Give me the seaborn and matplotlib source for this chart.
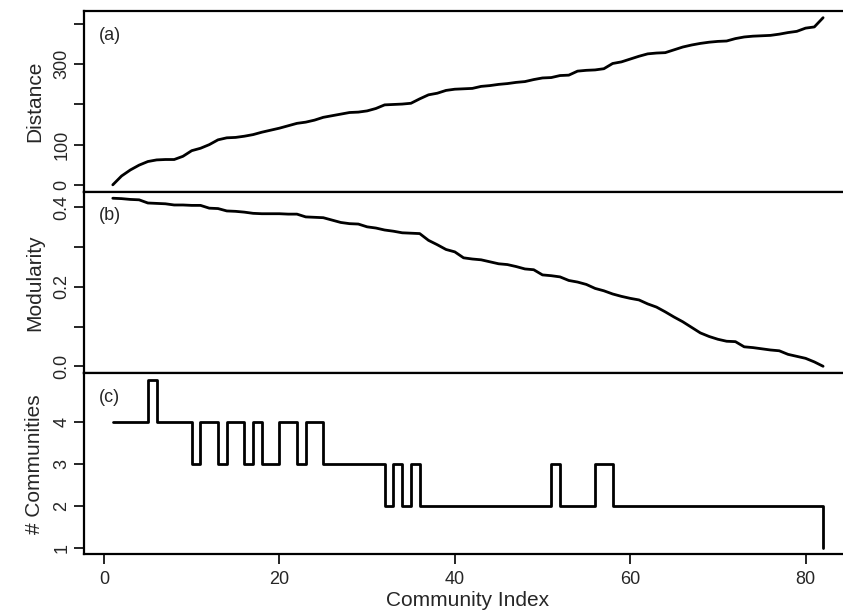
import numpy as np
import seaborn as sns
import matplotlib
matplotlib.use("Agg")
import matplotlib.pyplot as plt

# community index 1..82
community_index = list(range(1, 83))

distance = [
    0, 22, 37, 49, 58, 62, 63, 63, 71, 85,
    91, 100, 112, 117, 118, 121, 125, 131, 136, 141,
    147, 153, 156, 161, 168, 172, 176, 180, 181, 184,
    190, 199, 200, 201, 203, 214, 224, 228, 235, 238,
    239, 240, 245, 247, 250, 252, 255, 257, 262, 266,
    267, 272, 273, 283, 285, 286, 289, 302, 306, 313,
    320, 326, 328, 329, 336, 343, 348, 352, 355, 357,
    358, 364, 368, 370, 371, 372, 375, 379, 382, 390,
    393, 416,
]

modularity = [
    0.423, 0.422, 0.420, 0.419, 0.411, 0.410, 0.409, 0.406, 0.406, 0.405,
    0.405, 0.398, 0.397, 0.391, 0.390, 0.388, 0.385, 0.384, 0.384, 0.384,
    0.383, 0.383, 0.376, 0.375, 0.374, 0.368, 0.362, 0.359, 0.358, 0.351,
    0.348, 0.343, 0.340, 0.336, 0.335, 0.334, 0.317, 0.306, 0.294, 0.288,
    0.273, 0.270, 0.268, 0.263, 0.258, 0.256, 0.251, 0.245, 0.243, 0.230,
    0.228, 0.225, 0.216, 0.212, 0.206, 0.196, 0.190, 0.182, 0.176, 0.171,
    0.167, 0.157, 0.149, 0.137, 0.124, 0.112, 0.098, 0.084, 0.075, 0.068,
    0.063, 0.062, 0.049, 0.047, 0.044, 0.041, 0.039, 0.030, 0.025, 0.020,
    0.011, 0.000,
]

n_communities = [
    4, 4, 4, 4, 5, 4, 4, 4, 4, 3,
    4, 4, 3, 4, 4, 3, 4, 3, 3, 4,
    4, 3, 4, 4, 3, 3, 3, 3, 3, 3,
    3, 2, 3, 2, 3, 2, 2, 2, 2, 2,
    2, 2, 2, 2, 2, 2, 2, 2, 2, 2,
    3, 2, 2, 2, 2, 3, 3, 2, 2, 2,
    2, 2, 2, 2, 2, 2, 2, 2, 2, 2,
    2, 2, 2, 2, 2, 2, 2, 2, 2, 2,
    2, 1,
]

x_ticks = [0, 20, 40, 60, 80]


def r_limits(vals):
    # R style 4% padding around the data range
    lo, hi = min(vals), max(vals)
    pad = 0.04 * (hi - lo)
    return lo - pad, hi + pad


sns.set_theme(style="ticks")
plt.rcParams['font.family'] = ['Liberation Sans', 'DejaVu Sans']

fig = plt.figure(figsize=(8.43, 6.15), dpi=100)
left, width = 0.1001, 0.910
ax_a = fig.add_axes([left, 0.6886, width, 0.2935])
ax_b = fig.add_axes([left, 0.3935, width, 0.2951])
ax_c = fig.add_axes([left, 0.0984, width, 0.2951])

sns.lineplot(x=community_index, y=distance, ax=ax_a, color='black', linewidth=2)
sns.lineplot(x=community_index, y=modularity, ax=ax_b, color='black', linewidth=2)
sns.lineplot(x=community_index, y=n_communities, ax=ax_c, color='black',
             linewidth=2, drawstyle='steps-post')

xlim = r_limits(community_index)
panels = [
    (ax_a, distance, "Distance", [0, 100, 200, 300, 400], ["0", "100", "", "300", ""], "(a)"),
    (ax_b, modularity, "Modularity", [0, 0.1, 0.2, 0.3, 0.4], ["0.0", "", "0.2", "", "0.4"], "(b)"),
    (ax_c, n_communities, "# Communities", [1, 2, 3, 4], ["1", "2", "3", "4"], "(c)"),
]
for ax, vals, lab, yt, ytl, tag in panels:
    ax.set_xlim(*xlim)
    ax.set_ylim(*r_limits(vals))
    ax.set_yticks(yt)
    ax.set_yticklabels(ytl, rotation=90, va='center')
    ax.set_ylabel(lab, fontsize=15, labelpad=7)
    ax.tick_params(axis='y', length=7, width=1.2, labelsize=13, pad=3, color='black')
    for s in ax.spines.values():
        s.set_visible(True)
        s.set_linewidth(1.6)
        s.set_color('black')
    ax.text(0.019, 0.866, tag, transform=ax.transAxes, fontsize=13, va='center', ha='left')
    if ax is not ax_c:
        ax.set_xticks([])
        ax.set_xlabel("")

ax_c.set_xticks(x_ticks)
ax_c.set_xticklabels([str(t) for t in x_ticks])
ax_c.tick_params(axis='x', length=7, width=1.2, labelsize=13, pad=5, color='black')
ax_c.set_xlabel("Community Index", fontsize=15, labelpad=2)

fig.savefig("out.png", dpi=100)
